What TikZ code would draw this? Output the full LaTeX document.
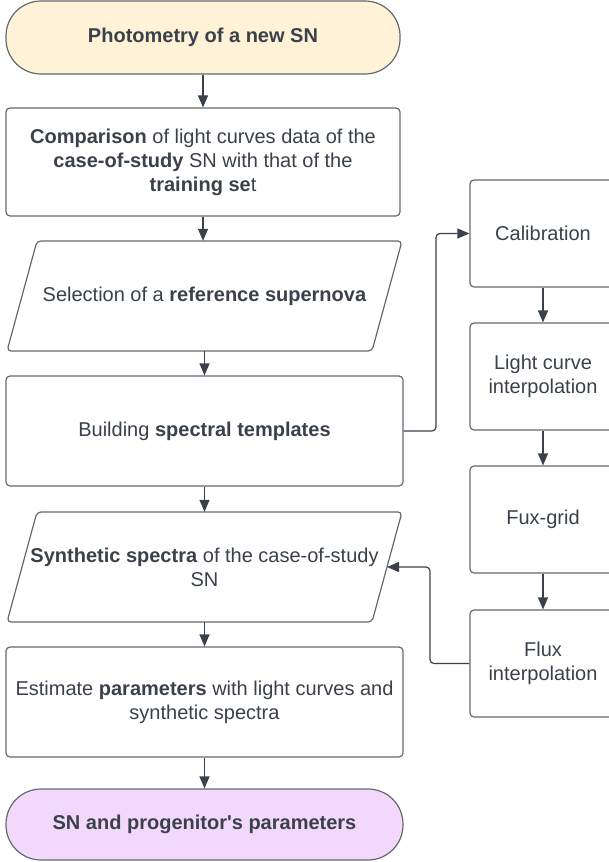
\documentclass[tikz,border=0pt]{standalone}
\usepackage{fontspec}
\setmainfont{Liberation Sans}
\usetikzlibrary{arrows.meta}
\definecolor{ink}{RGB}{58,65,74}
\definecolor{edge}{RGB}{100,105,112}
\definecolor{termA}{RGB}{255,242,214}
\definecolor{termB}{RGB}{242,217,252}
\begin{document}
\begin{tikzpicture}[x=1pt,y=-1pt,
  boxstyle/.style={draw=edge, line width=1.2pt, rounded corners=4pt, fill=white, text=ink,
    align=center, inner sep=0pt, font=\fontsize{20}{24}\selectfont},
  term/.style={boxstyle, rounded corners=35pt},
  ghost/.style={inner sep=0pt, align=center, text=ink, font=\fontsize{20}{24}\selectfont},
  para/.style={draw=edge, line width=1.2pt, rounded corners=4pt, fill=white},
  conn/.style={draw=ink, line width=1.2pt, -{Triangle[length=12pt,width=10pt]}},
  elbowconn/.style={conn, rounded corners=4pt}]
\useasboundingbox (0,0) rectangle (609,862);
\clip (0,0) rectangle (609,862);

% main column
\node[term, fill=termA, minimum width=394pt, minimum height=73pt] (n1) at (203,37.5)
  {\textbf{Photometry of a new SN}};
\node[boxstyle, minimum width=394pt, minimum height=108pt] (n2) at (203,162)
  {\textbf{Comparison} of light curves data of the\\
   \textbf{case-of-study} SN with that of the\\
   \textbf{training se}t};
\draw[para] (37,241) -- (402,241) -- (372,351) -- (7,351) -- cycle;
\node[ghost, minimum width=365pt, minimum height=110pt] (n3) at (204.5,296)
  {Selection of a \textbf{reference supernova}};
\node[boxstyle, minimum width=397pt, minimum height=110pt] (n4) at (204.5,431)
  {Building \textbf{spectral templates}};
\draw[para] (37,512) -- (402,512) -- (372,622) -- (7,622) -- cycle;
\node[ghost, minimum width=365pt, minimum height=110pt] (n5) at (204.5,567)
  {\textbf{Synthetic spectra} of the case-of-study\\SN};
\coordinate (n5r) at (387,567);
\node[boxstyle, minimum width=397pt, minimum height=110pt] (n6) at (204.5,702)
  {Estimate \textbf{parameters} with light curves and\\synthetic spectra};
\node[term, fill=termB, minimum width=397pt, minimum height=71pt] (n7) at (204.5,824.5)
  {\textbf{SN and progenitor\textquotesingle s parameters}};

% right column
\node[boxstyle, minimum width=146pt, minimum height=107pt] (r1) at (543,233.5) {Calibration};
\node[boxstyle, minimum width=146pt, minimum height=107pt] (r2) at (543,376.5) {Light curve\\interpolation};
\node[boxstyle, minimum width=146pt, minimum height=107pt] (r3) at (543,519.5) {Fux-grid};
\node[boxstyle, minimum width=146pt, minimum height=107pt] (r4) at (543,663.5) {Flux\\interpolation};

% connectors
\draw[conn] (n1.south) -- (n2.north);
\draw[conn] (n2.south) -- (n2.south |- n3.north);
\draw[conn] (n3.south) -- (n4.north);
\draw[conn] (n4.south) -- (n5.north);
\draw[conn] (n5.south) -- (n6.north);
\draw[conn] (n6.south) -- (n7.north);
\draw[conn] (r1.south) -- (r2.north);
\draw[conn] (r2.south) -- (r3.north);
\draw[conn] (r3.south) -- (r4.north);
\draw[elbowconn] (n4.east) -- (436,431) |- (r1.west);
\draw[elbowconn] (r4.west) -- (430,663.5) |- (n5r);
\end{tikzpicture}
\end{document}
